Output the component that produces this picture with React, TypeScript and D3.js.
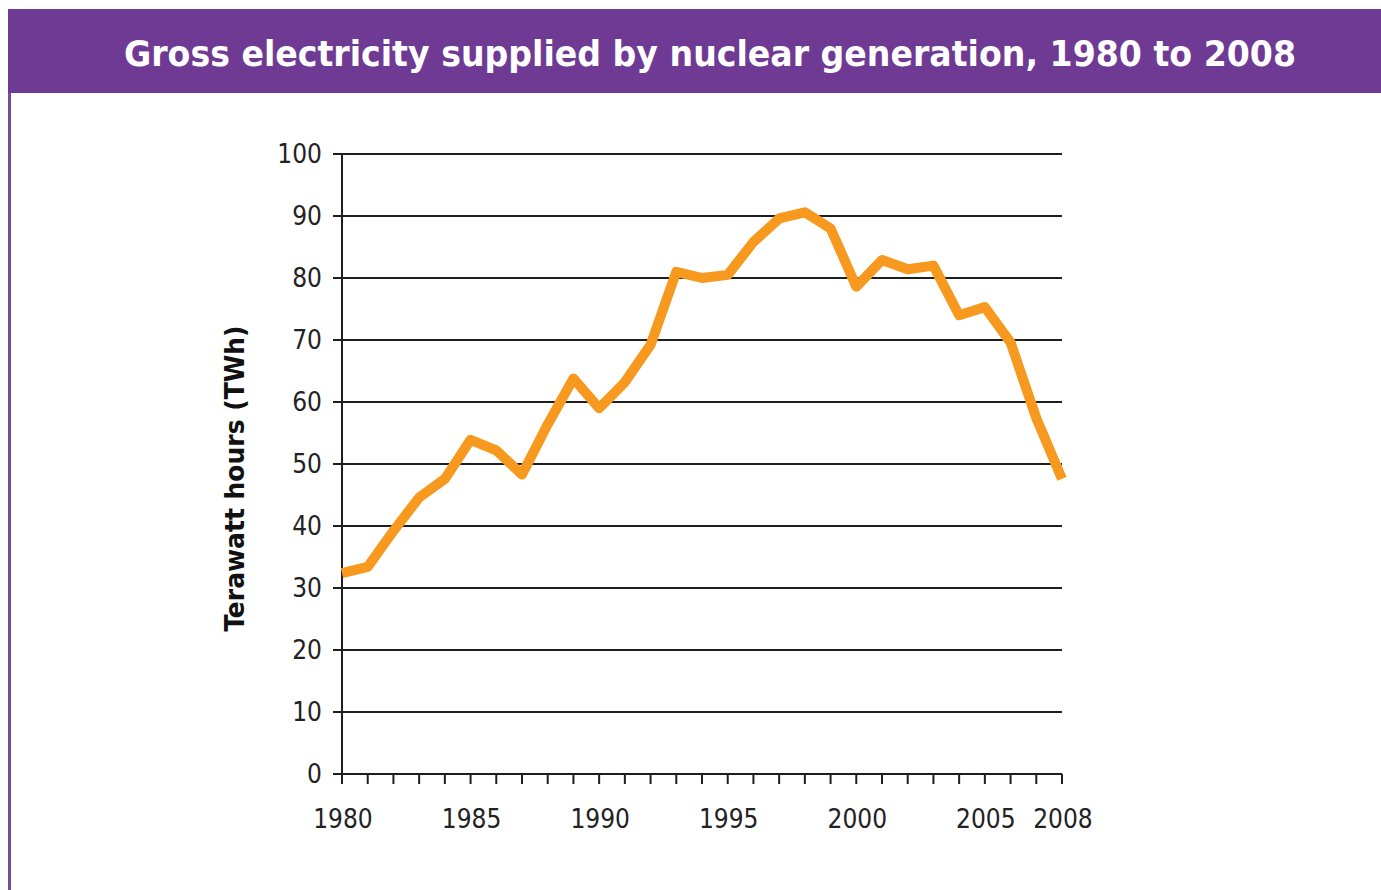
import React, { useEffect, useRef } from "react";
import * as d3 from "d3";

const years = d3.range(1980, 2009);
const values = [
  32.4, 33.4, 39.2, 44.6, 47.6, 53.9, 52.2, 48.3, 56.4, 63.8,
  59.0, 63.2, 69.2, 81.0, 80.0, 80.5, 85.8, 89.6, 90.6, 88.0,
  78.6, 82.9, 81.4, 82.0, 74.0, 75.3, 69.6, 57.4, 47.6,
];
const yTicks = [0, 10, 20, 30, 40, 50, 60, 70, 80, 90, 100];
const xLabels = [1980, 1985, 1990, 1995, 2000, 2005, 2008];
const title = "Gross electricity supplied by nuclear generation, 1980 to 2008";
const yTitle = "Terawatt hours (TWh)";

const App = () => {
  const svgRef = useRef<SVGSVGElement>(null);

  useEffect(() => {
    const svg = d3.select(svgRef.current);
    svg.selectAll("*").remove();

    const W = 1381;
    const H = 890;
    const margin = { top: 154, right: 319, bottom: 116, left: 342 };

    const x = d3
      .scaleLinear()
      .domain([1980, 2008])
      .range([margin.left, W - margin.right]);
    const y = d3
      .scaleLinear()
      .domain([0, 100])
      .range([H - margin.bottom, margin.top]);

    // Frame and header band
    svg.append("rect").attr("width", W).attr("height", H).attr("fill", "#fff");
    svg
      .append("rect")
      .attr("x", 8)
      .attr("y", 9)
      .attr("width", W - 8)
      .attr("height", 84)
      .attr("fill", "#6f3a94");
    svg
      .append("rect")
      .attr("x", 8)
      .attr("y", 93)
      .attr("width", 3)
      .attr("height", H - 93)
      .attr("fill", "#7a4a9c");
    svg
      .append("text")
      .attr("x", 710)
      .attr("y", 66)
      .attr("text-anchor", "middle")
      .attr("fill", "#fff")
      .attr("font-family", "'DejaVu Sans Condensed', 'DejaVu Sans', sans-serif")
      .attr("font-weight", "bold")
      .attr("font-size", 36)
      .attr("textLength", 1172)
      .attr("lengthAdjust", "spacingAndGlyphs")
      .text(title);

    const font = "'Liberation Sans Narrow', 'DejaVu Sans Condensed', sans-serif";

    // Gridlines
    svg
      .append("g")
      .selectAll("line")
      .data(yTicks)
      .join("line")
      .attr("x1", margin.left - 9)
      .attr("x2", x(2008))
      .attr("y1", (d) => y(d))
      .attr("y2", (d) => y(d))
      .attr("stroke", "#1e1e1e")
      .attr("stroke-width", 2);

    // Y axis line
    svg
      .append("line")
      .attr("x1", margin.left)
      .attr("x2", margin.left)
      .attr("y1", y(100))
      .attr("y2", y(0) + 10)
      .attr("stroke", "#1e1e1e")
      .attr("stroke-width", 2);

    // Y tick labels
    svg
      .append("g")
      .selectAll("text")
      .data(yTicks)
      .join("text")
      .attr("x", margin.left - 20)
      .attr("y", (d) => y(d) + 9)
      .attr("text-anchor", "end")
      .attr("font-family", font)
      .attr("font-size", 26)
      .attr("fill", "#222")
      .text((d) => d);

    // X ticks
    svg
      .append("g")
      .selectAll("line")
      .data(years)
      .join("line")
      .attr("x1", (d) => x(d))
      .attr("x2", (d) => x(d))
      .attr("y1", y(0))
      .attr("y2", y(0) + 10)
      .attr("stroke", "#1e1e1e")
      .attr("stroke-width", 2);

    svg
      .append("g")
      .selectAll("text")
      .data(xLabels)
      .join("text")
      .attr("x", (d) => x(d) + 1)
      .attr("y", y(0) + 54)
      .attr("text-anchor", "middle")
      .attr("font-family", font)
      .attr("font-size", 26)
      .attr("fill", "#222")
      .text((d) => d);

    // Y axis title
    svg
      .append("text")
      .attr("transform", `translate(244, ${(325 + 632) / 2}) rotate(-90)`)
      .attr("text-anchor", "middle")
      .attr("font-family", "'DejaVu Sans Condensed', 'DejaVu Sans', sans-serif")
      .attr("font-weight", "bold")
      .attr("font-size", 26)
      .attr("textLength", 306)
      .attr("lengthAdjust", "spacingAndGlyphs")
      .attr("fill", "#111")
      .text(yTitle);

    // Data line
    const line = d3
      .line<number>()
      .x((_, i) => x(years[i]))
      .y((d) => y(d));
    svg
      .append("path")
      .datum(values)
      .attr("d", line)
      .attr("fill", "none")
      .attr("stroke", "#f7991e")
      .attr("stroke-width", 10)
      .attr("stroke-linejoin", "round");
  }, []);

  return (
    <svg
      ref={svgRef}
      width={1381}
      height={890}
      style={{ position: "absolute", left: 0, top: 0 }}
    ></svg>
  );
};

export default App;
